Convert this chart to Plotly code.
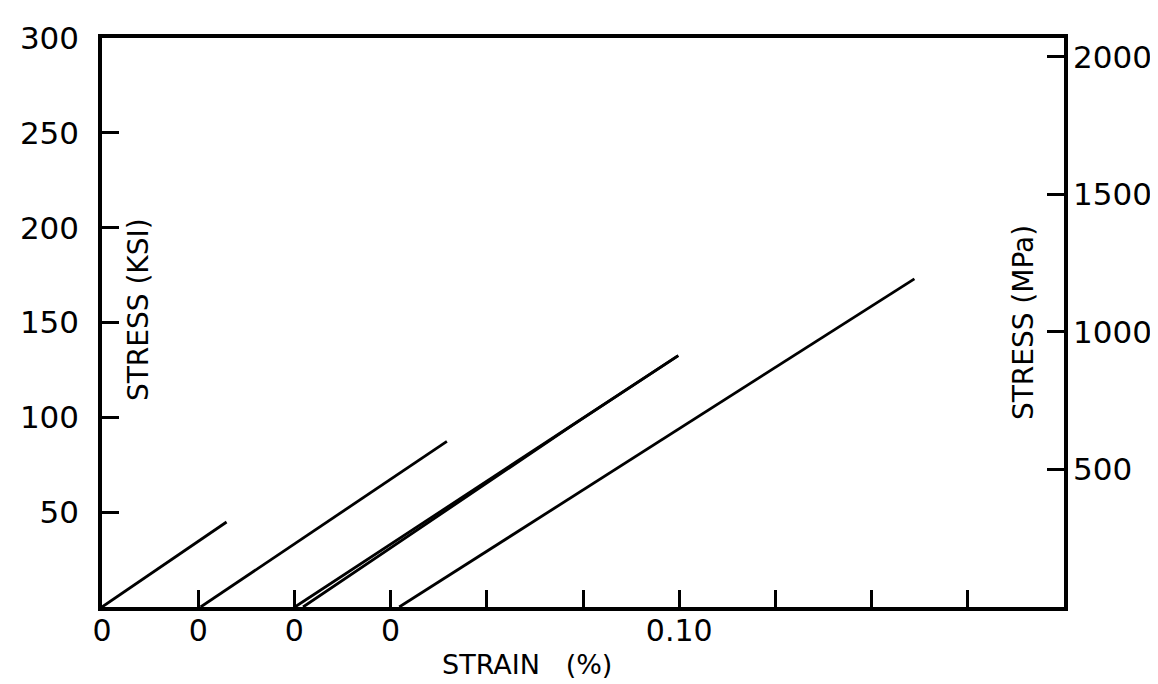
import plotly.graph_objects as go

# Strain (%) and stress (ksi) for each specimen trace (origins offset along the strain axis)
strain_a = [0.0, 0.0259]
stress_a = [0.0, 44.8]
strain_b = [0.0205, 0.0717]
stress_b = [0.0, 87.3]
strain_c = [0.0401, 0.1198]
stress_c = [0.0, 132.5]
strain_d = [0.0418, 0.0976, 0.1198]
stress_d = [0.0, 95.5, 132.5]
strain_e = [0.0618, 0.1689]
stress_e = [0.0, 173.0]

x_tickvals = [0.0, 0.02, 0.04, 0.06, 0.08, 0.10, 0.12, 0.14, 0.16, 0.18]
x_ticktext = ["0", "0", "0", "0", "", "", "0.10", "", "", ""]
ksi_ticks = [50, 100, 150, 200, 250, 300]
mpa_ticks = [500, 1000, 1500, 2000]
KSI_TO_MPA = 6.894757

FONT = "DejaVu Sans"
L, R, T, B = 91, 1056, 22, 599

fig = go.Figure()
for xs, ys in [(strain_a, stress_a), (strain_b, stress_b), (strain_c, stress_c),
               (strain_d, stress_d), (strain_e, stress_e)]:
    fig.add_trace(go.Scatter(x=xs, y=ys, mode="lines",
                             line=dict(color="black", width=2.8),
                             showlegend=False, hoverinfo="skip"))

# invisible trace to activate the MPa axis
fig.add_trace(go.Scatter(x=[0], y=[0], yaxis="y2", mode="markers",
                         marker=dict(opacity=0), showlegend=False, hoverinfo="skip"))

fig.update_layout(
    width=1158, height=684,
    margin=dict(l=L, r=1158 - R, t=T, b=684 - B),
    paper_bgcolor="white", plot_bgcolor="white",
    font=dict(family=FONT, color="black"),
    xaxis=dict(range=[0, 0.20], tickvals=x_tickvals, ticktext=x_ticktext,
               ticks="inside", ticklen=17, tickwidth=2.5, tickcolor="black",
               showline=True, linecolor="black", linewidth=3.5, mirror=True,
               showgrid=False, zeroline=False,
               tickfont=dict(size=30, family=FONT), ticklabelstandoff=-6),
    yaxis=dict(range=[0, 300], tickvals=ksi_ticks, ticktext=[str(v) for v in ksi_ticks],
               ticks="inside", ticklen=17, tickwidth=2.5, tickcolor="black",
               showline=True, linecolor="black", linewidth=3.5, mirror=True,
               showgrid=False, zeroline=False,
               tickfont=dict(size=31, family=FONT), ticklabelstandoff=13),
    yaxis2=dict(range=[0, 300 * KSI_TO_MPA], overlaying="y", side="right",
                tickvals=mpa_ticks, ticktext=[str(v) for v in mpa_ticks],
                ticks="inside", ticklen=17, tickwidth=2.5, tickcolor="black",
                showline=False, showgrid=False, zeroline=False,
                tickfont=dict(size=31, family=FONT), ticklabelstandoff=8),
)

fig.add_annotation(text="STRAIN\u00a0\u00a0\u00a0(%)", xref="paper", yref="paper",
                   x=(517 - L) / (R - L), y=-(657 - B) / (B - T),
                   xanchor="center", yanchor="middle",
                   showarrow=False, font=dict(size=27, family=FONT))
fig.add_annotation(text="STRESS (KSI)", xref="paper", yref="paper",
                   x=(127 - L) / (R - L), y=(B - 297) / (B - T),
                   xanchor="center", yanchor="middle", textangle=-90,
                   showarrow=False, font=dict(size=28, family=FONT))
fig.add_annotation(text="STRESS (MPa)", xref="paper", yref="paper",
                   x=(1016 - L) / (R - L), y=(B - 311) / (B - T),
                   xanchor="center", yanchor="middle", textangle=-90,
                   showarrow=False, font=dict(size=28, family=FONT))

fig.write_html("out.html")
